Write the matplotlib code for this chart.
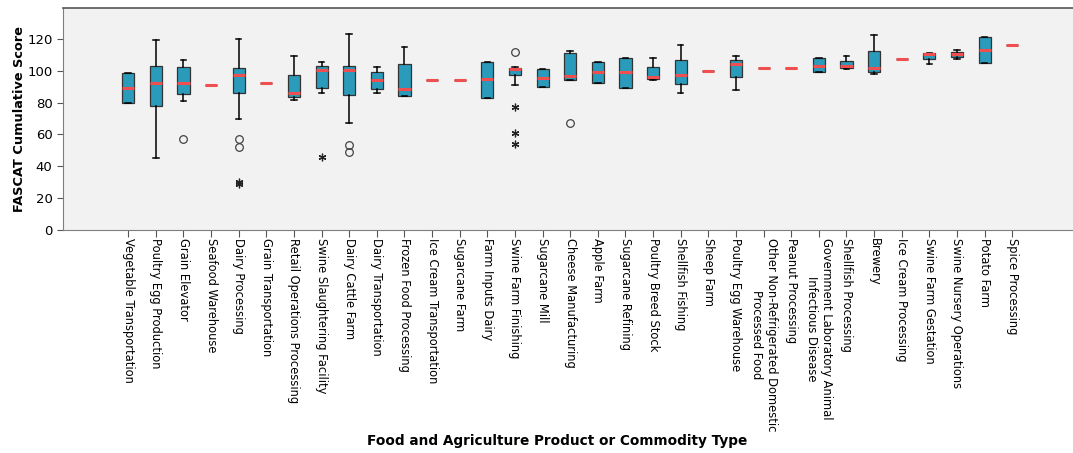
import matplotlib
matplotlib.use('Agg')
import matplotlib.pyplot as plt
import numpy as np

categories = [
    'Vegetable Transportation', 'Poultry Egg Production', 'Grain Elevator',
    'Seafood Warehouse', 'Dairy Processing', 'Grain Transportation',
    'Retail Operations Processing', 'Swine Slaughtering Facility',
    'Dairy Cattle Farm', 'Dairy Transportation', 'Frozen Food Processing',
    'Ice Cream Transportation', 'Sugarcane Farm', 'Farm Inputs Dairy',
    'Swine Farm Finishing', 'Sugarcane Mill', 'Cheese Manufacturing',
    'Apple Farm', 'Sugarcane Refining', 'Poultry Breed Stock',
    'Shellfish Fishing', 'Sheep Farm', 'Poultry Egg Warehouse',
    'Other Non-Refrigerated Domestic\nProcessed Food', 'Peanut Processing',
    'Government Laboratory Animal\nInfectious Disease', 'Shellfish Processing',
    'Brewery', 'Ice Cream Processing', 'Swine Farm Gestation',
    'Swine Nursery Operations', 'Potato Farm', 'Spice Processing',
]

whisker_low = [80, 45, 81, 91, 70, 92, 81.5, 86, 67, 86, 84, 94, 94, 83,
               91.3, 90, 94, 92, 89, 94, 86.3, 100, 88, 102, 102, 99.4, 101,
               98, 107.6, 104.3, 107.2, 105, 116.4]
q1 = [80, 78, 85.6, 91, 86.3, 92, 83.7, 89.4, 84.6, 88.6, 84.2, 94, 94, 83,
      97.2, 90, 94.2, 92, 89, 94.8, 91.7, 100, 96, 102, 102, 99.4, 102,
      99, 107.6, 107.2, 108.7, 105, 116.4]
median = [89, 92.3, 92.3, 91, 97.4, 92, 86.3, 100.5, 100.3, 94.2, 88.8, 94,
          94, 94.8, 101, 95.7, 96.7, 99, 99, 96.1, 97.4, 100, 104.3, 102,
          102, 103.2, 103.2, 101.5, 107.6, 110.3, 110.3, 113, 116.4]
q3 = [98.4, 103, 102.2, 91, 102, 92, 97.6, 103.2, 103.2, 99.2, 104.3, 94,
      94, 105.3, 101.8, 101.3, 111.4, 105.3, 108.2, 102.2, 106.8, 100,
      106.8, 102, 102, 107.8, 106.4, 112.6, 107.6, 110.9, 111.6, 121.2, 116.4]
whisker_high = [98.4, 119, 107, 91, 120, 92, 109, 105.3, 123, 102.4, 115, 94,
                94, 105.3, 102.2, 101.3, 112.2, 105.3, 108.2, 108.2, 116.4,
                100, 109, 102, 102, 108.3, 109.3, 122.3, 107.6, 111.4, 113,
                121.2, 116.4]

# mild outliers (circles) and extreme outliers (asterisks)
circle_outliers = [[], [], [57], [], [57, 52], [], [], [], [53.4, 49.2], [],
                   [], [], [], [], [112], [], [67], [], [], [], [], [], [],
                   [], [], [], [], [], [], [], [], [], []]
star_outliers = [[], [], [], [], [30, 29], [], [], [46], [], [], [], [], [],
                 [], [77, 61, 54], [], [], [], [], [], [], [], [], [], [],
                 [], [], [], [], [], [], [], []]

box_color = '#2A9BBA'
median_color = '#EF4F4F'
panel_bg = '#F2F2F2'

fig = plt.figure(figsize=(10.73, 4.53), dpi=100)
ax = fig.add_axes([63 / 1073, 1 - 230 / 453, 1 - 63 / 1073, 222 / 453])
ax.set_facecolor(panel_bg)

stats = []
for i, name in enumerate(categories):
    stats.append({
        'label': name,
        'whislo': whisker_low[i], 'q1': q1[i], 'med': median[i],
        'q3': q3[i], 'whishi': whisker_high[i],
        'fliers': circle_outliers[i],
    })

positions = np.arange(len(categories))
ax.bxp(stats, positions=positions, widths=0.44, capwidths=0.2,
       patch_artist=True,
       boxprops=dict(facecolor=box_color, edgecolor='#333333', linewidth=0.9),
       medianprops=dict(color=median_color, linewidth=2.2, solid_capstyle='butt'),
       whiskerprops=dict(color='black', linewidth=1.1),
       capprops=dict(color='black', linewidth=1.1),
       flierprops=dict(marker='o', markerfacecolor='none',
                       markeredgecolor='#444444', markersize=5.5,
                       markeredgewidth=0.9))

for i, vals in enumerate(star_outliers):
    if vals:
        ax.plot([positions[i]] * len(vals), vals, linestyle='none',
                marker=(6, 2, 0), markersize=5.5, color='#222222',
                markeredgewidth=0.9)

ax.set_xlim(-2.36, 34.2)
ax.set_ylim(0, 139.4)
ax.set_yticks([0, 20, 40, 60, 80, 100, 120])
ax.set_xticks(positions)
ax.set_xticklabels(categories, rotation=270, ha='center', va='top',
                   fontsize=8.3)
ax.tick_params(axis='y', labelsize=9.5, length=4, color='#555555')
ax.tick_params(axis='x', length=5, color='#555555', pad=1)

for side in ['left', 'bottom']:
    ax.spines[side].set_color('#7F7F7F')
ax.spines['top'].set_color('#555555')
ax.spines['top'].set_linewidth(1.2)
ax.spines['right'].set_visible(False)

ax.set_ylabel('FASCAT Cumulative Score', fontsize=9.3, fontweight='bold')
ax.yaxis.set_label_coords(-0.037, 0.5)
fig.text(557 / 1073, 1 - 441 / 453, 'Food and Agriculture Product or Commodity Type',
         ha='center', va='center', fontsize=9.8, fontweight='bold')

fig.savefig('out.png', dpi=100)
